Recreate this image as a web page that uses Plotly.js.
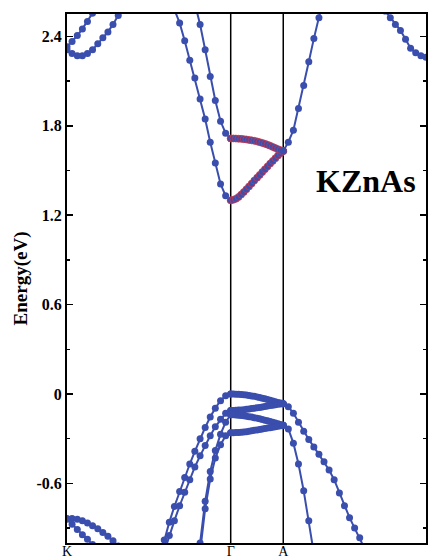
<!DOCTYPE html>
<html>
<head>
<meta charset="utf-8">
<script src="https://cdn.plot.ly/plotly-3.0.1.min.js"></script>
<style>
html,body{margin:0;padding:0;background:#fff;}
#chart{width:429px;height:560px;}
</style>
</head>
<body>
<div id="chart"></div>
<script>
// High-symmetry points and k-grids (path length units)
const kLabels = ['K', 'Γ', 'A', 'H'];
const kTicks = [0, 1, 1.321, 2.193];

const kKG = [0, 0.031, 0.063, 0.094, 0.125, 0.156, 0.188, 0.219, 0.25, 0.281, 0.313, 0.344, 0.375, 0.406, 0.438, 0.469, 0.5, 0.531, 0.563, 0.594, 0.625, 0.656, 0.688, 0.719, 0.75, 0.781, 0.813, 0.844, 0.875, 0.906, 0.938, 0.969, 1.0];
const kGA = [1.000, 1.016, 1.032, 1.048, 1.064, 1.080, 1.096, 1.112, 1.128, 1.144, 1.161, 1.177, 1.193, 1.209, 1.225, 1.241, 1.257, 1.273, 1.289, 1.305, 1.321];
const kAH = [1.321, 1.352, 1.383, 1.414, 1.446, 1.477, 1.508, 1.539, 1.570, 1.601, 1.632, 1.664, 1.695, 1.726, 1.757, 1.788, 1.819, 1.850, 1.881, 1.913, 1.944, 1.975, 2.006, 2.037, 2.068, 2.099, 2.130, 2.162, 2.193];

// K-Gamma segment (energies in eV)
const cK1 = [2.33, 2.365, 2.405, 2.45, 2.50, 2.555, 2.61];                 // from K index 0
const cK2 = [2.31, 2.285, 2.27, 2.27, 2.285, 2.31, 2.35, 2.39, 2.43, 2.48, 2.54, 2.60]; // index 0
const cG1_KG = [2.58, 2.49, 2.37, 2.24, 2.12, 1.98, 1.845, 1.69, 1.55, 1.41, 1.33, 1.30]; // index 21
const cG2_KG = [2.62, 2.48, 2.31, 2.13, 1.97, 1.83, 1.75, 1.715];          // index 25
const v1_KG = [-1.11, -0.98, -0.86, -0.755, -0.655, -0.56, -0.47, -0.385, -0.30, -0.225, -0.155, -0.095, -0.045, -0.012, 0.0]; // index 18
const v2_KG = [-1.06, -0.95, -0.85, -0.75, -0.66, -0.575, -0.49, -0.415, -0.345, -0.28, -0.22, -0.17, -0.13, -0.11]; // index 19
const v3_KG = [-1.35, -1.0, -0.72, -0.52, -0.38, -0.27, -0.19, -0.14];     // index 25
const v4_KG = [-1.42, -1.06, -0.77, -0.57, -0.43, -0.34, -0.28, -0.26];    // index 25
const vK1 = [-0.835, -0.835, -0.84, -0.85, -0.866, -0.885, -0.905, -0.93, -0.955, -0.985, -1.02]; // index 0
const vK2 = [-0.84, -0.875, -0.91, -0.945, -0.975, -1.01];                 // index 0

// Gamma-A segment
const cG1_GA = [1.300, 1.303, 1.310, 1.322, 1.338, 1.355, 1.374, 1.393, 1.412, 1.432, 1.451, 1.470, 1.489, 1.508, 1.527, 1.546, 1.564, 1.582, 1.600, 1.616, 1.630];
const cG2_GA = [1.715, 1.715, 1.714, 1.713, 1.712, 1.710, 1.708, 1.705, 1.702, 1.699, 1.695, 1.690, 1.685, 1.679, 1.673, 1.666, 1.658, 1.650, 1.643, 1.636, 1.630];
const v1_GA = [0.000, 0.000, -0.001, -0.002, -0.003, -0.005, -0.007, -0.010, -0.013, -0.016, -0.020, -0.024, -0.028, -0.032, -0.037, -0.042, -0.047, -0.052, -0.057, -0.061, -0.065];
const v2_GA = [-0.110, -0.110, -0.109, -0.108, -0.107, -0.105, -0.103, -0.101, -0.098, -0.096, -0.093, -0.090, -0.087, -0.084, -0.081, -0.078, -0.075, -0.072, -0.069, -0.067, -0.065];
const v3_GA = [-0.140, -0.140, -0.141, -0.142, -0.144, -0.146, -0.149, -0.152, -0.155, -0.159, -0.163, -0.167, -0.171, -0.176, -0.180, -0.185, -0.190, -0.195, -0.200, -0.205, -0.210];
const v4_GA = [-0.260, -0.260, -0.259, -0.258, -0.257, -0.255, -0.253, -0.250, -0.247, -0.244, -0.241, -0.238, -0.235, -0.232, -0.229, -0.226, -0.223, -0.220, -0.217, -0.214, -0.210];

// A-H segment
const cA_AH = [1.63, 1.69, 1.77, 1.915, 2.07, 2.23, 2.385, 2.525, 2.67];   // index 0
const cH_AH = [2.57, 2.525, 2.48, 2.44, 2.38, 2.32, 2.29, 2.27, 2.26];     // index 20
const v1_AH = [-0.065, -0.085, -0.13, -0.19, -0.25, -0.305, -0.355, -0.405, -0.455, -0.51, -0.575, -0.665, -0.75, -0.83, -0.90, -0.965, -1.04]; // index 0
const v2_AH = [-0.21, -0.235, -0.33, -0.47, -0.65, -0.85, -1.07];          // index 0

const BLUE = 'rgb(58,78,174)';

function band(kgrid, start, E, red) {
  return {
    x: kgrid.slice(start, start + E.length),
    y: E,
    type: 'scatter',
    mode: 'lines+markers',
    line: {color: BLUE, width: 2},
    marker: {size: 7, color: BLUE, line: red ? {color: 'rgb(225,50,60)', width: 0.7} : {width: 0}},
    hoverinfo: 'skip',
    showlegend: false
  };
}

const data = [
  band(kKG, 0, cK1), band(kKG, 0, cK2),
  band(kKG, 21, cG1_KG), band(kKG, 25, cG2_KG),
  band(kKG, 18, v1_KG), band(kKG, 19, v2_KG),
  band(kKG, 25, v3_KG), band(kKG, 25, v4_KG),
  band(kKG, 0, vK1), band(kKG, 0, vK2),
  band(kGA, 0, v1_GA), band(kGA, 0, v2_GA), band(kGA, 0, v3_GA), band(kGA, 0, v4_GA),
  band(kGA, 0, cG1_GA, true), band(kGA, 0, cG2_GA, true),
  band(kAH, 0, cA_AH), band(kAH, 20, cH_AH),
  band(kAH, 0, v1_AH), band(kAH, 0, v2_AH)
];

const serif = 'Liberation Serif, Times New Roman, serif';

const layout = {
  width: 429, height: 560,
  margin: {l: 67, r: 3, t: 14, b: 17},
  paper_bgcolor: '#fff', plot_bgcolor: '#fff',
  showlegend: false,
  xaxis: {
    range: [0, 2.193],
    tickvals: kTicks, ticktext: kLabels,
    ticks: '', showgrid: false, zeroline: false,
    showline: true, mirror: true, linecolor: '#000', linewidth: 2,
    ticklabelstandoff: -6,
    tickfont: {family: serif, size: 14, color: '#000'}
  },
  yaxis: {
    range: [-1.0, 2.55],
    tickvals: [-0.6, 0, 0.6, 1.2, 1.8, 2.4],
    ticktext: ['-0.6', '0', '0.6', '1.2', '1.8', '2.4'],
    ticks: 'inside', ticklen: 6, tickwidth: 1.5, tickcolor: '#000',
    minor: {tickvals: [-0.9, -0.3, 0.3, 0.9, 1.5, 2.1], ticks: 'inside', ticklen: 3, tickwidth: 1.5, tickcolor: '#000'},
    showgrid: false, zeroline: false,
    showline: true, mirror: 'ticks', linecolor: '#000', linewidth: 2,
    tickfont: {family: serif, size: 16, color: '#000', weight: 'bold'},
    title: {text: 'Energy(eV)', font: {family: serif, size: 19, color: '#000', weight: 'bold'}, standoff: 4}
  },
  shapes: [
    {type: 'line', xref: 'x', yref: 'paper', x0: kTicks[1], x1: kTicks[1], y0: 0, y1: 1, line: {color: '#000', width: 1.5}, layer: 'below'},
    {type: 'line', xref: 'x', yref: 'paper', x0: kTicks[2], x1: kTicks[2], y0: 0, y1: 1, line: {color: '#000', width: 1.5}, layer: 'below'}
  ],
  annotations: [
    {text: 'KZnAs', x: 1.826, y: 1.43, xref: 'x', yref: 'y', showarrow: false, xanchor: 'center', yanchor: 'middle',
     font: {family: serif, size: 32, color: '#000', weight: 'bold'}}
  ]
};

Plotly.newPlot('chart', data, layout, {displayModeBar: false, staticPlot: true});
</script>
</body>
</html>
